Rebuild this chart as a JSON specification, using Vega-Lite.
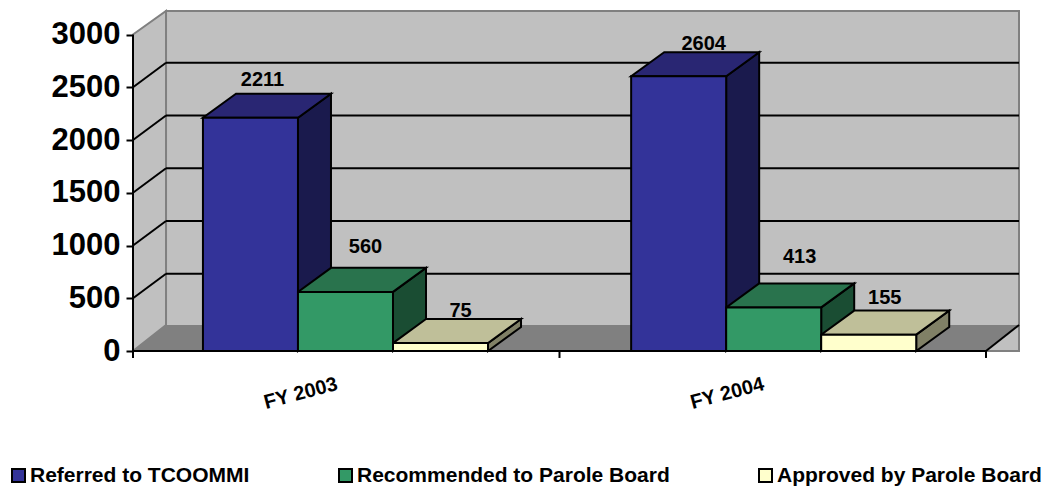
{
  "$schema": "https://vega.github.io/schema/vega-lite/v6.json",
  "width": 886,
  "height": 340,
  "padding": {"left": 133, "top": 11, "right": 28, "bottom": 135},
  "autosize": {"type": "none"},
  "background": "white",
  "params": [
    {"name": "depthX", "value": 0.0774},
    {"name": "depthY", "value": 228},
    {"name": "gridDepth", "value": 232},
    {"name": "wallDepth", "value": 223},
    {"name": "floorDepth", "value": 246},
    {"name": "barW", "value": 0.2228},
    {"name": "pxX", "value": 426.5},
    {"name": "pxY", "value": 0.1055}
  ],
  "datasets": {
    "bars": [
      {"period": "FY 2003", "series": "Referred to TCOOMMI", "value": 2211},
      {"period": "FY 2003", "series": "Recommended to Parole Board", "value": 560},
      {"period": "FY 2003", "series": "Approved by Parole Board", "value": 75},
      {"period": "FY 2004", "series": "Referred to TCOOMMI", "value": 2604},
      {"period": "FY 2004", "series": "Recommended to Parole Board", "value": 413},
      {"period": "FY 2004", "series": "Approved by Parole Board", "value": 155}
    ],
    "corners": [{"c": 0}, {"c": 1}],
    "ticks": [{"t": 500}, {"t": 1000}, {"t": 1500}, {"t": 2000}, {"t": 2500}, {"t": 3000}],
    "categoryTicks": [{"k": 0}, {"k": 1}, {"k": 2}]
  },
  "layer": [
    {
      "data": {"values": [{"a": 0.0774, "b": 2.0774, "lo": 0, "hi": 3223}]},
      "mark": {"type": "rect", "fill": "#c0c0c0", "stroke": "#808080", "strokeWidth": 2, "clip": false},
      "encoding": {
        "x": {
          "field": "a", "type": "quantitative", "scale": {"domain": [0, 2.0774], "nice": false, "zero": false},
          "axis": {
            "orient": "bottom", "title": null, "grid": false, "domain": false, "ticks": false,
            "values": [0.5, 1.5], "labelExpr": "datum.value<1?'FY 2003':'FY 2004'",
            "labelAngle": -15, "labelAlign": "center", "labelBaseline": "middle", "labelPadding": 42, "labelOffset": -46,
            "labelFont": "Liberation Sans", "labelFontWeight": "bold", "labelFontSize": 20, "labelColor": "black"
          }
        },
        "x2": {"field": "b"},
        "y": {
          "field": "lo", "type": "quantitative", "scale": {"domain": [0, 3223], "nice": false, "zero": false},
          "axis": {
            "orient": "left", "title": null, "grid": false, "domain": false, "tickColor": "black", "tickSize": 7, "tickWidth": 2,
            "values": [0, 500, 1000, 1500, 2000, 2500, 3000], "format": "d", "labelPadding": 6,
            "labelFont": "Liberation Sans", "labelFontWeight": "bold", "labelFontSize": 31, "labelColor": "black"
          }
        },
        "y2": {"field": "hi"}
      }
    },
    {
      "data": {"name": "corners"},
      "transform": [
        {"calculate": "datum.c*depthX", "as": "px"},
        {"calculate": "datum.c*floorDepth", "as": "py"},
        {"calculate": "3000+datum.c*wallDepth", "as": "py2"}
      ],
      "mark": {"type": "area", "fill": "#c0c0c0", "stroke": "#808080", "strokeWidth": 2, "clip": false},
      "encoding": {
        "x": {"field": "px", "type": "quantitative"},
        "y": {"field": "py2", "type": "quantitative"},
        "y2": {"field": "py"}
      }
    },
    {
      "data": {"name": "corners"},
      "transform": [
        {"calculate": "datum.c*floorDepth", "as": "py"},
        {"calculate": "datum.c*depthX", "as": "px"},
        {"calculate": "2+datum.c*depthX", "as": "px2"}
      ],
      "mark": {"type": "area", "orient": "horizontal", "fill": "#808080", "clip": false},
      "encoding": {
        "y": {"field": "py", "type": "quantitative"},
        "x": {"field": "px", "type": "quantitative"},
        "x2": {"field": "px2"}
      }
    },
    {
      "data": {"name": "ticks"},
      "transform": [
        {"filter": "datum.t<3000"},
        {"calculate": "datum.t+gridDepth", "as": "yBack"},
        {"calculate": "0.0774", "as": "a"},
        {"calculate": "2.0774", "as": "b"}
      ],
      "mark": {"type": "rule", "stroke": "black", "strokeWidth": 2},
      "encoding": {
        "x": {"field": "a", "type": "quantitative"},
        "x2": {"field": "b"},
        "y": {"field": "yBack", "type": "quantitative"}
      }
    },
    {
      "data": {"name": "ticks"},
      "transform": [
        {"filter": "datum.t<3000"},
        {"calculate": "[0,1]", "as": "c"},
        {"flatten": ["c"]},
        {"calculate": "datum.c*depthX", "as": "px"},
        {"calculate": "datum.t+datum.c*gridDepth", "as": "py"}
      ],
      "mark": {"type": "line", "stroke": "black", "strokeWidth": 2, "clip": false},
      "encoding": {
        "x": {"field": "px", "type": "quantitative"},
        "y": {"field": "py", "type": "quantitative"},
        "detail": {"field": "t", "type": "nominal"}
      }
    },
    {
      "data": {"name": "corners"},
      "transform": [
        {"calculate": "2+datum.c*depthX", "as": "px"},
        {"calculate": "datum.c*floorDepth", "as": "py"}
      ],
      "mark": {"type": "line", "stroke": "black", "strokeWidth": 2, "clip": false},
      "encoding": {
        "x": {"field": "px", "type": "quantitative"},
        "y": {"field": "py", "type": "quantitative"}
      }
    },
    {
      "data": {"name": "bars"},
      "transform": [
        {"calculate": "indexof(['FY 2003','FY 2004'],datum.period)*1.004+0.164+indexof(['Referred to TCOOMMI','Recommended to Parole Board','Approved by Parole Board'],datum.series)*barW", "as": "x0"},
        {"calculate": "datum.x0+barW", "as": "x1"},
        {"calculate": "datum.period+datum.series", "as": "key"},
        {"calculate": "[0,1]", "as": "c"},
        {"flatten": ["c"]},
        {"calculate": "datum.x1+datum.c*depthX", "as": "px"},
        {"calculate": "datum.c*depthY", "as": "py"},
        {"calculate": "datum.value+datum.c*depthY", "as": "py2"}
      ],
      "mark": {"type": "area", "stroke": "black", "strokeWidth": 2, "clip": false},
      "encoding": {
        "x": {"field": "px", "type": "quantitative"},
        "y": {"field": "py2", "type": "quantitative"},
        "y2": {"field": "py"},
        "detail": {"field": "key", "type": "nominal"},
        "color": {
          "field": "series", "type": "nominal", "legend": null,
          "scale": {"domain": ["Referred to TCOOMMI", "Recommended to Parole Board", "Approved by Parole Board"], "range": ["#1a1a4d", "#1a4d33", "#808066"]}
        }
      }
    },
    {
      "data": {"name": "bars"},
      "transform": [
        {"calculate": "indexof(['FY 2003','FY 2004'],datum.period)*1.004+0.164+indexof(['Referred to TCOOMMI','Recommended to Parole Board','Approved by Parole Board'],datum.series)*barW", "as": "x0"},
        {"calculate": "datum.x0+barW", "as": "x1"},
        {"calculate": "datum.period+datum.series", "as": "key"},
        {"calculate": "[0,1]", "as": "c"},
        {"flatten": ["c"]},
        {"calculate": "datum.x0+datum.c*depthX", "as": "px"},
        {"calculate": "datum.x1+datum.c*depthX", "as": "px2"},
        {"calculate": "datum.value+datum.c*depthY", "as": "py"}
      ],
      "mark": {"type": "area", "orient": "horizontal", "stroke": "black", "strokeWidth": 2, "clip": false},
      "encoding": {
        "y": {"field": "py", "type": "quantitative"},
        "x": {"field": "px", "type": "quantitative"},
        "x2": {"field": "px2"},
        "detail": {"field": "key", "type": "nominal"},
        "color": {
          "field": "series", "type": "nominal", "legend": null,
          "scale": {"domain": ["Referred to TCOOMMI", "Recommended to Parole Board", "Approved by Parole Board"], "range": ["#292673", "#29734d", "#bfbf99"]}
        }
      }
    },
    {
      "data": {"name": "bars"},
      "transform": [
        {"calculate": "indexof(['FY 2003','FY 2004'],datum.period)*1.004+0.164+indexof(['Referred to TCOOMMI','Recommended to Parole Board','Approved by Parole Board'],datum.series)*barW", "as": "x0"},
        {"calculate": "datum.x0+barW", "as": "x1"},
        {"calculate": "0", "as": "base"}
      ],
      "mark": {"type": "rect", "stroke": "black", "strokeWidth": 2, "clip": false},
      "encoding": {
        "x": {"field": "x0", "type": "quantitative"},
        "x2": {"field": "x1"},
        "y": {"field": "base", "type": "quantitative"},
        "y2": {"field": "value"},
        "color": {
          "field": "series", "type": "nominal",
          "scale": {"domain": ["Referred to TCOOMMI", "Recommended to Parole Board", "Approved by Parole Board"], "range": ["#333399", "#339966", "#ffffcc"]},
          "legend": {
            "orient": "none", "legendX": -125, "legendY": 454, "direction": "horizontal", "columns": 3,
            "title": null, "symbolType": "square", "symbolSize": 169, "symbolStrokeColor": "black", "symbolStrokeWidth": 2,
            "labelFont": "Liberation Sans", "labelFontWeight": "bold", "labelFontSize": 21, "labelColor": "black",
            "columnPadding": 85, "labelOffset": 1, "labelLimit": 400
          }
        }
      }
    },
    {
      "data": {"name": "bars"},
      "transform": [
        {"calculate": "indexof(['FY 2003','FY 2004'],datum.period)*1.004+0.164+indexof(['Referred to TCOOMMI','Recommended to Parole Board','Approved by Parole Board'],datum.series)*barW", "as": "x0"},
        {"calculate": "datum.x0+barW", "as": "x1"},
        {"calculate": "{'2211':12,'2604':25,'560':20,'413':26,'75':20,'155':16}[datum.value]/pxX+(datum.x0+datum.x1)/2", "as": "lx"},
        {"calculate": "datum.value+{'2211':38,'2604':32,'560':45,'413':50,'75':32,'155':37}[datum.value]/pxY", "as": "ly"}
      ],
      "mark": {"type": "text", "font": "Liberation Sans", "fontWeight": "bold", "fontSize": 20, "color": "black", "clip": false},
      "encoding": {
        "x": {"field": "lx", "type": "quantitative"},
        "y": {"field": "ly", "type": "quantitative"},
        "text": {"field": "value", "type": "quantitative"}
      }
    },
    {
      "data": {"values": [{"left": 0, "right": 2, "base": 0}]},
      "mark": {"type": "rule", "stroke": "black", "strokeWidth": 2, "clip": false},
      "encoding": {
        "x": {"field": "left", "type": "quantitative"},
        "x2": {"field": "right"},
        "y": {"field": "base", "type": "quantitative"}
      }
    },
    {
      "data": {"values": [{"left": 0, "lo": 0, "hi": 3000}]},
      "mark": {"type": "rule", "stroke": "black", "strokeWidth": 2, "clip": false},
      "encoding": {
        "x": {"field": "left", "type": "quantitative"},
        "y": {"field": "lo", "type": "quantitative"},
        "y2": {"field": "hi"}
      }
    },
    {
      "data": {"name": "categoryTicks"},
      "transform": [{"calculate": "0", "as": "lo"}, {"calculate": "-66", "as": "hi"}],
      "mark": {"type": "rule", "stroke": "black", "strokeWidth": 2, "clip": false},
      "encoding": {
        "x": {"field": "k", "type": "quantitative"},
        "y": {"field": "lo", "type": "quantitative"},
        "y2": {"field": "hi"}
      }
    }
  ],
  "resolve": {"scale": {"color": "independent"}},
  "config": {"view": {"stroke": null}, "font": "Liberation Sans"}
}
